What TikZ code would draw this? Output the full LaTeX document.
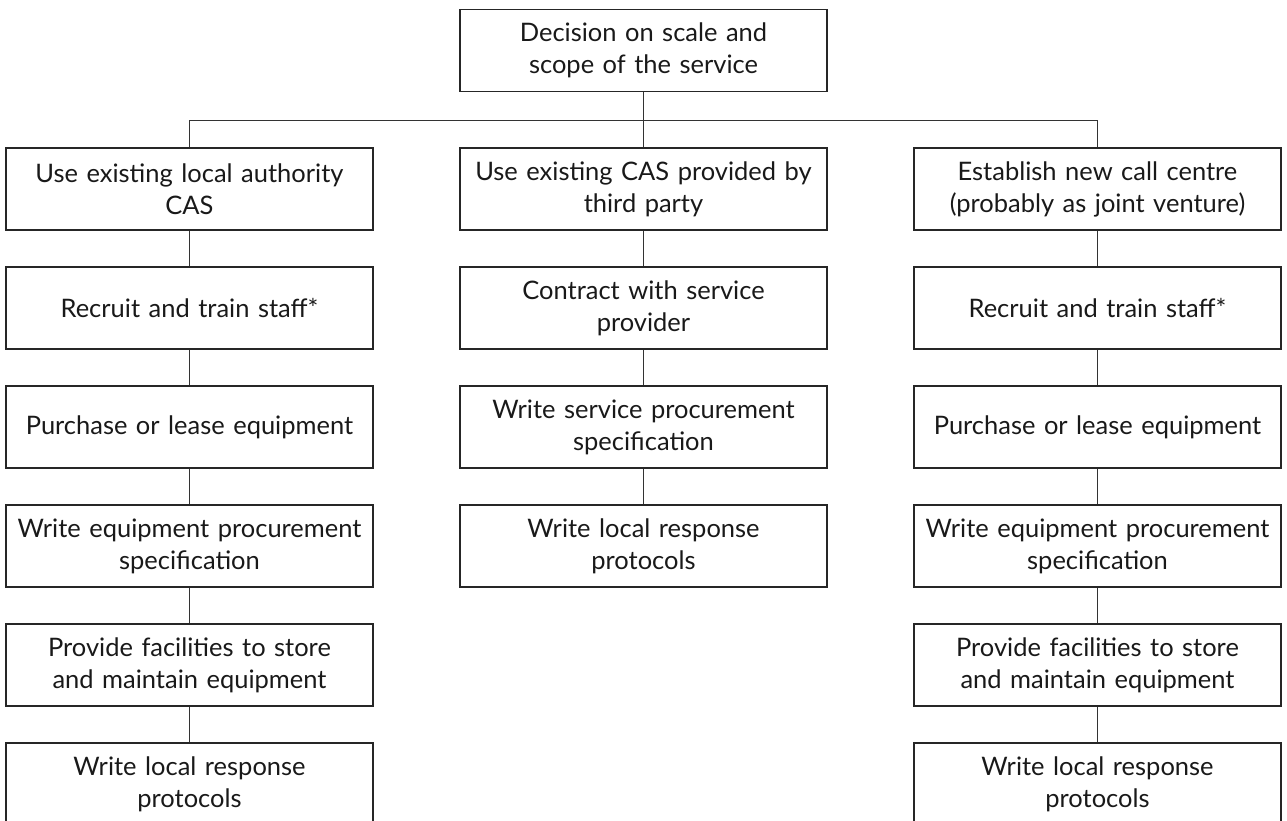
\documentclass[tikz,border=0pt]{standalone}
\usepackage{fontspec}
\setmainfont{Lato}
\usepackage{tikz}
\usetikzlibrary{positioning}
\tikzset{
    task/.style={
           rectangle,
           draw=black!85, line width=0.85pt,
           minimum width=7.26cm,
           minimum height=1.64cm,
           inner sep=2pt,
           text width=7.2cm,
           align=center,
           text=black!90,
           font=\fontsize{14.5}{18.2}\selectfont,
           },
}

\begin{document}
\begin{tikzpicture}[line width=0.85pt, draw=black!80]
 % frame of the picture (bottom row runs off the page)
 \useasboundingbox (0,0) rectangle (25.74,-16.42);

 % Top decision
 \node[task] (DEC) at (12.87,-1.01)
 {Decision on scale and\\ scope of the service};

 % three options, middle one straight below DEC
 \node[task,
  below of=DEC,		% under the decision
  node distance=2.77cm] (TPC)
	{Use existing CAS provided by\\ third party};
 \node[task, left of=TPC, node distance=9.08cm] (LAC)
	{Use existing local authority\\ CAS};
 \node[task, right of=TPC, node distance=9.08cm] (NCC)
	{Establish new call centre\\ (probably as joint venture)};

 % left column
 \node[task, below of=LAC, node distance=2.38cm] (RECL) {Recruit and train staff*};
 \node[task, below of=RECL, node distance=2.38cm] (PURL) {Purchase or lease equipment};
 \node[task, below of=PURL, node distance=2.38cm] (SPECL) {Write equipment procurement\\ specification};
 \node[task, below of=SPECL, node distance=2.38cm] (FACL) {Provide facilities to store\\ and maintain equipment};
 \node[task, below of=FACL, node distance=2.38cm] (PROTL) {Write local response\\ protocols};

 % middle column
 \node[task, below of=TPC, node distance=2.38cm] (CON) {Contract with service\\ provider};
 \node[task, below of=CON, node distance=2.38cm] (SPECM) {Write service procurement\\ specification};
 \node[task, below of=SPECM, node distance=2.38cm] (PROTM) {Write local response\\ protocols};

 % right column
 \node[task, below of=NCC, node distance=2.38cm] (RECR) {Recruit and train staff*};
 \node[task, below of=RECR, node distance=2.38cm] (PURR) {Purchase or lease equipment};
 \node[task, below of=PURR, node distance=2.38cm] (SPECR) {Write equipment procurement\\ specification};
 \node[task, below of=SPECR, node distance=2.38cm] (FACR) {Provide facilities to store\\ and maintain equipment};
 \node[task, below of=FACR, node distance=2.38cm] (PROTR) {Write local response\\ protocols};

 % branching bar
 \draw (DEC.south) -- ++(0,-0.56) coordinate (BAR);
 \draw (LAC.north) |- (BAR) -| (NCC.north);
 \draw (BAR) -- (TPC.north);

 \path
	 (LAC)	edge (RECL)
	 (RECL)	edge (PURL)
	 (PURL)	edge (SPECL)
	 (SPECL)	edge (FACL)
	 (FACL)	edge (PROTL)
	 (TPC)	edge (CON)
	 (CON)	edge (SPECM)
	 (SPECM)	edge (PROTM)
	 (NCC)	edge (RECR)
	 (RECR)	edge (PURR)
	 (PURR)	edge (SPECR)
	 (SPECR)	edge (FACR)
	 (FACR)	edge (PROTR);
\end{tikzpicture}
\end{document}
